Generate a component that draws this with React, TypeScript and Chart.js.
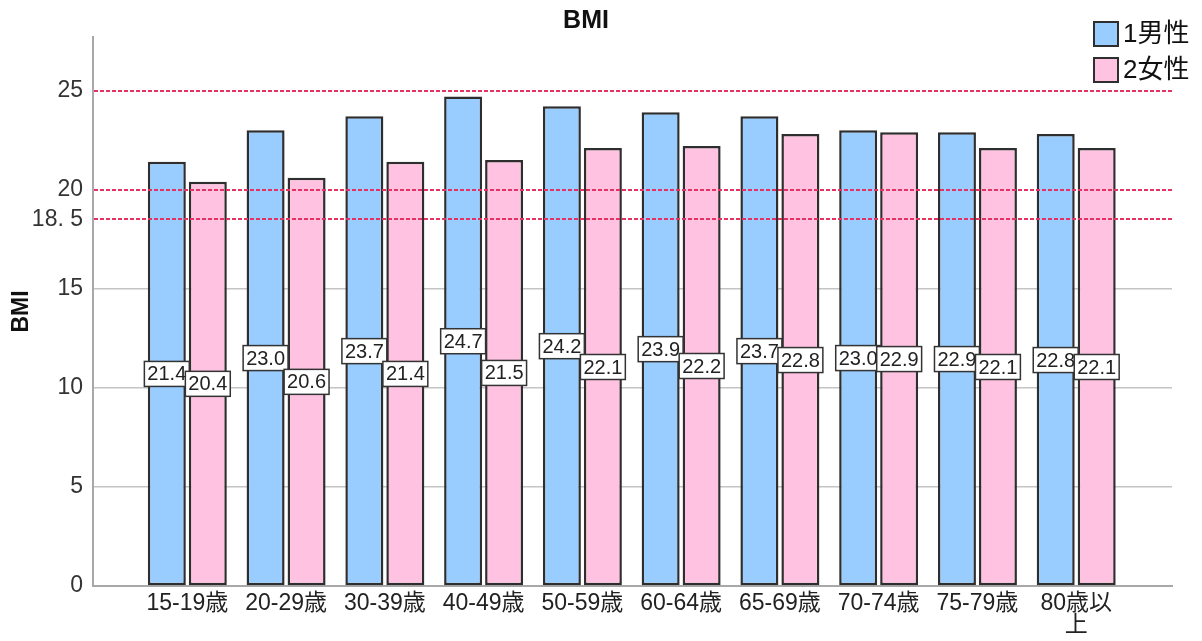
import React, { useEffect, useRef } from "react";
import { Chart, registerables } from "chart.js";

Chart.register(...registerables);

// Age groups (x-axis tick labels; the last one wraps onto two lines)
const ageGroups: (string | string[])[] = [
  "15-19歳",
  "20-29歳",
  "30-39歳",
  "40-49歳",
  "50-59歳",
  "60-64歳",
  "65-69歳",
  "70-74歳",
  "75-79歳",
  ["80歳以", "上"],
];

// Mean BMI by sex
const maleBMI = [21.4, 23.0, 23.7, 24.7, 24.2, 23.9, 23.7, 23.0, 22.9, 22.8];
const femaleBMI = [20.4, 20.6, 21.4, 21.5, 22.1, 22.2, 22.8, 22.9, 22.1, 22.1];

const seriesNames = ["1男性", "2女性"];

// y-axis ticks and the reference lines drawn in red
const yTicks = [0, 5, 10, 15, 18.5, 20, 25];
const refLines = [18.5, 20, 25];

const FONT = '"Liberation Sans", "Noto Sans CJK JP", sans-serif';
const BLUE = "#99ccff";
const PINK = "#ffc2e0";
const EDGE = "#2e2e2e";
const RED = "rgb(228, 50, 100)";

const refLinePlugin = {
  id: "refLines",
  afterDatasetsDraw(chart: any) {
    const { ctx, chartArea, scales } = chart;
    ctx.save();
    ctx.strokeStyle = RED;
    ctx.lineWidth = 2;
    ctx.setLineDash([4, 2]);
    for (const v of refLines) {
      const y = Math.round(scales.y.getPixelForValue(v));
      ctx.beginPath();
      ctx.moveTo(chartArea.left + 1, y);
      ctx.lineTo(chartArea.right, y);
      ctx.stroke();
    }
    ctx.restore();
  },
};

const valueLabelPlugin = {
  id: "valueLabels",
  afterDatasetsDraw(chart: any) {
    const { ctx, scales } = chart;
    ctx.save();
    ctx.font = `20px ${FONT}`;
    ctx.textAlign = "center";
    ctx.textBaseline = "middle";
    chart.data.datasets.forEach((ds: any, di: number) => {
      const meta = chart.getDatasetMeta(di);
      meta.data.forEach((el: any, i: number) => {
        const v = ds.data[i].y;
        const text = v.toFixed(1);
        const cx = el.x;
        const cy = scales.y.getPixelForValue(v / 2);
        const w = ctx.measureText(text).width + 6;
        const h = 25;
        ctx.fillStyle = "#ffffff";
        ctx.fillRect(cx - w / 2, cy - h / 2, w, h);
        ctx.strokeStyle = "#333333";
        ctx.lineWidth = 1.5;
        ctx.strokeRect(cx - w / 2, cy - h / 2, w, h);
        ctx.fillStyle = "#222222";
        ctx.fillText(text, cx, cy + 1);
      });
    });
    ctx.restore();
  },
};

const legendPlugin = {
  id: "cornerLegend",
  afterDraw(chart: any) {
    const { ctx } = chart;
    ctx.save();
    ctx.font = `26px ${FONT}`;
    ctx.textBaseline = "middle";
    ctx.textAlign = "left";
    chart.data.datasets.forEach((ds: any, i: number) => {
      const top = 22 + i * 36;
      ctx.fillStyle = ds.backgroundColor;
      ctx.fillRect(1094, top, 24, 24);
      ctx.strokeStyle = EDGE;
      ctx.lineWidth = 2;
      ctx.strokeRect(1094, top, 24, 24);
      ctx.fillStyle = "#111111";
      ctx.fillText(ds.label, 1123, top + 13);
    });
    ctx.restore();
  },
};

export default function App() {
  const canvasRef = useRef<HTMLCanvasElement | null>(null);

  useEffect(() => {
    if (!canvasRef.current) return;
    Chart.defaults.font.family = FONT;

    const makeData = (vals: number[]) => vals.map((v, i) => ({ x: i, y: v }));

    const chart = new Chart(canvasRef.current, {
      type: "bar",
      data: {
        datasets: [
          {
            label: seriesNames[0],
            data: makeData(maleBMI),
            backgroundColor: BLUE,
            borderColor: EDGE,
            borderWidth: 2.5,
            borderSkipped: false,
            categoryPercentage: 0.83,
            barPercentage: 0.927,
          },
          {
            label: seriesNames[1],
            data: makeData(femaleBMI),
            backgroundColor: PINK,
            borderColor: EDGE,
            borderWidth: 2.5,
            borderSkipped: false,
            categoryPercentage: 0.83,
            barPercentage: 0.927,
          },
        ],
      },
      options: {
        animation: false,
        responsive: true,
        maintainAspectRatio: false,
        layout: { padding: { left: 0, right: 30, top: 0, bottom: 0 } },
        plugins: {
          legend: { display: false },
          tooltip: { enabled: false },
          title: {
            display: true,
            text: "BMI",
            color: "#111111",
            font: { family: FONT, size: 25, weight: "bold", lineHeight: 1.2 },
            padding: { top: 6, bottom: 1 },
          },
        },
        scales: {
          x: {
            type: "linear",
            offset: false,
            min: -0.955,
            max: 9.97,
            afterBuildTicks: (scale: any) => {
              scale.ticks = ageGroups.map((_, i) => ({ value: i }));
            },
            afterFit: (scale: any) => {
              scale.height = 55;
            },
            grid: { display: false, drawTicks: false, offset: false },
            border: { display: true, color: "#a8a8a8", width: 2 },
            ticks: {
              autoSkip: false,
              maxRotation: 0,
              padding: 7,
              color: "#222222",
              font: { family: FONT, size: 23, lineHeight: 0.95 },
              callback: (value: any) => ageGroups[Math.round(Number(value))] ?? "",
            },
          },
          y: {
            type: "linear",
            min: 0,
            max: 27.7,
            afterBuildTicks: (scale: any) => {
              scale.ticks = yTicks.map((v) => ({ value: v }));
            },
            afterFit: (scale: any) => {
              scale.width = 93;
            },
            grid: {
              drawTicks: false,
              lineWidth: 1.5,
              color: (ctx: any) => {
                const v = ctx.tick ? ctx.tick.value : null;
                return v === 5 || v === 10 || v === 15 ? "#c4c4c4" : "rgba(0,0,0,0)";
              },
            },
            border: { display: true, color: "#a8a8a8", width: 2 },
            ticks: {
              padding: 10,
              color: "#333333",
              font: { family: FONT, size: 23 },
              callback: (value: any) => (value === 18.5 ? "18. 5" : String(value)),
            },
            title: {
              display: true,
              text: "BMI",
              color: "#111111",
              font: { family: FONT, size: 23, weight: "bold" },
              padding: { top: 8, bottom: 0 },
            },
          },
        },
      },
      plugins: [refLinePlugin, valueLabelPlugin, legendPlugin],
    } as any);

    return () => chart.destroy();
  }, []);

  return (
    <div style={{ position: "fixed", left: 0, top: 0, width: 1202, height: 641, background: "#ffffff" }}>
      <canvas ref={canvasRef} />
    </div>
  );
}
